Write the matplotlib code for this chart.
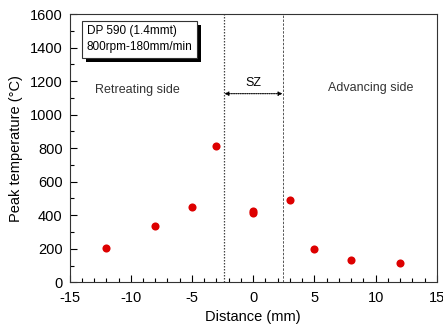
import matplotlib
matplotlib.use("Agg")
import matplotlib.pyplot as plt
import matplotlib.patheffects as pe
from matplotlib.ticker import MultipleLocator

plt.rcParams['font.family'] = ['Liberation Sans', 'DejaVu Sans']
plt.rcParams['axes.unicode_minus'] = False

distance = [-12, -8, -5, -3, 0, 0, 3, 5, 8, 12]
peak_temp = [205, 338, 452, 810, 428, 412, 493, 200, 135, 115]
sz_bounds = [-2.35, 2.4]
xticks = [-15, -10, -5, 0, 5, 10, 15]
yticks = [0, 200, 400, 600, 800, 1000, 1200, 1400, 1600]

fig = plt.figure(figsize=(4.43, 3.30), dpi=100)
ax = fig.add_axes([0.157, 0.1445, 0.829, 0.813])

ax.scatter(distance, peak_temp, s=34, color='#dd0000', zorder=3, linewidths=0)

ax.axvline(sz_bounds[0], color='#444444', linestyle=(0, (1.2, 1.2)), linewidth=0.9)
ax.axvline(sz_bounds[1], color='#555555', linestyle=(0, (2.5, 1.5)), linewidth=0.7)

ax.annotate('', xy=(sz_bounds[0], 1125), xytext=(sz_bounds[1], 1125),
            arrowprops=dict(arrowstyle='<|-|>', color='black', lw=0.8,
                            linestyle=(0, (1, 1)), mutation_scale=6,
                            shrinkA=0, shrinkB=0))
ax.text(0.0, 1190, 'SZ', ha='center', va='center', fontsize=9)
ax.text(-9.5, 1145, 'Retreating side', ha='center', va='center', fontsize=9, color='#333333')
ax.text(9.6, 1160, 'Advancing side', ha='center', va='center', fontsize=9, color='#333333')

box = ax.text(-13.6, 1450, 'DP 590 (1.4mmt)\n800rpm-180mm/min', ha='left', va='center',
              fontsize=8.5, linespacing=1.4,
              bbox=dict(boxstyle='square,pad=0.4', facecolor='white', edgecolor='#333333', lw=0.8))
box.get_bbox_patch().set_path_effects([
    pe.SimplePatchShadow(offset=(3, -3), shadow_rgbFace='black', alpha=1.0),
    pe.Normal()])

ax.set_xlim(-15, 15)
ax.set_ylim(0, 1600)
ax.set_xticks(xticks)
ax.set_yticks(yticks)
ax.xaxis.set_minor_locator(MultipleLocator(1))
ax.yaxis.set_minor_locator(MultipleLocator(100))
ax.tick_params(which='both', direction='in', top=False, right=False, labelsize=10.5)
ax.tick_params(axis='x', pad=6)
ax.tick_params(axis='y', pad=5)
ax.tick_params(which='major', length=5, width=0.8)
ax.tick_params(which='minor', length=3, width=0.8)
for s in ax.spines.values():
    s.set_linewidth(0.8)
    s.set_color('#333333')

ax.set_xlabel('Distance (mm)', fontsize=10.5, labelpad=4)
ax.set_ylabel('Peak temperature (°C)', fontsize=10.5, labelpad=5)

fig.savefig('out.png', dpi=100, facecolor='white')
